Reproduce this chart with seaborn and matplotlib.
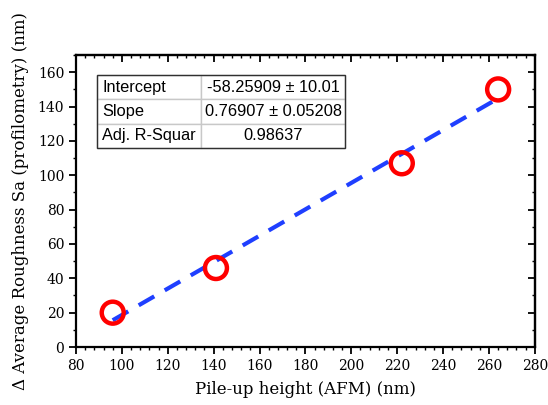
import matplotlib
matplotlib.use("Agg")
import matplotlib.pyplot as plt
import seaborn as sns
import numpy as np
import pandas as pd
from matplotlib.ticker import MultipleLocator
from matplotlib.patches import Rectangle

# Data
pileup_height = [96, 141, 222, 264]
delta_sa = [20, 46, 107, 150]
intercept = -58.25909
slope = 0.76907
table_rows = [["Intercept", "-58.25909 ± 10.01"],
              ["Slope", "0.76907 ± 0.05208"],
              ["Adj. R-Squar", "0.98637"]]

sns.set_theme(style="white")
plt.rcParams['font.family'] = ['DejaVu Serif']
plt.rcParams['text.color'] = 'black'
plt.rcParams['axes.labelcolor'] = 'black'
plt.rcParams['xtick.color'] = 'black'
plt.rcParams['ytick.color'] = 'black'

fig = plt.figure(figsize=(5.48, 4.05), dpi=100)
ax = fig.add_axes([0.1387, 0.1432, 0.976 - 0.1387, 0.864 - 0.1432])

df = pd.DataFrame({"x": pileup_height, "y": delta_sa})
fit_x = [min(pileup_height), max(pileup_height)]
fit_df = pd.DataFrame({"x": fit_x, "y": [intercept + slope * v for v in fit_x]})

sns.lineplot(data=fit_df, x="x", y="y", ax=ax, color="#1f3fff", linewidth=3.0,
             zorder=2)
ax.lines[-1].set_dashes((4.3, 2.9))
sns.scatterplot(data=df, x="x", y="y", ax=ax, s=250, marker="o",
                facecolors="none", edgecolor="#ff0000", linewidth=3.2, zorder=3)

ax.set_xlim(80, 280)
ax.set_ylim(0, 170)
ax.xaxis.set_major_locator(MultipleLocator(20))
ax.xaxis.set_minor_locator(MultipleLocator(4))
ax.yaxis.set_major_locator(MultipleLocator(20))
ax.yaxis.set_minor_locator(MultipleLocator(10))

for sp in ax.spines.values():
    sp.set_color("black")
    sp.set_linewidth(1.6)

ax.tick_params(axis="both", which="major", direction="out", length=5, width=1.3,
               colors="black", labelsize=10, bottom=True, left=True)
ax.tick_params(axis="both", which="minor", direction="out", length=2.5, width=1.0,
               colors="black", bottom=True, left=True)
# top / right inward ticks via secondary axes
secx = ax.secondary_xaxis("top")
secx.xaxis.set_major_locator(MultipleLocator(20))
secx.xaxis.set_minor_locator(MultipleLocator(4))
secx.tick_params(which="major", direction="in", length=5, width=1.3, labeltop=False)
secx.tick_params(which="minor", direction="in", length=2.5, width=1.0)
secx.spines["top"].set_linewidth(1.6)
secy = ax.secondary_yaxis("right")
secy.yaxis.set_major_locator(MultipleLocator(20))
secy.yaxis.set_minor_locator(MultipleLocator(10))
secy.tick_params(which="major", direction="in", length=5, width=1.3, labelright=False)
secy.tick_params(which="minor", direction="in", length=2.5, width=1.0)
secy.spines["right"].set_linewidth(1.6)

ax.set_xlabel("Pile-up height (AFM) (nm)", fontsize=12, labelpad=6, color="black")
ax.set_ylabel("Δ Average Roughness Sa (profilometry) (nm)", fontsize=12, labelpad=6,
              color="black")

tbl = ax.table(cellText=table_rows, cellLoc="center",
               bbox=[0.046, 0.682, 0.54, 0.25], colWidths=[0.42, 0.58])
tbl.auto_set_font_size(False)
tbl.set_fontsize(11.8)
for (r, c), cell in tbl.get_celld().items():
    cell.set_edgecolor("#c8c8c8")
    cell.set_linewidth(1.0)
    cell.set_facecolor("white")
    cell.get_text().set_fontfamily("Liberation Sans")
    cell.get_text().set_fontsize(11.8)
    cell.get_text().set_color("black")
    if c == 0:
        cell.get_text().set_horizontalalignment("left")
        cell.PAD = 0.05
tbl.set_zorder(4)
ax.add_patch(Rectangle((0.046, 0.682), 0.54, 0.25, transform=ax.transAxes,
                       fill=False, edgecolor="#303030", linewidth=1.0, zorder=5))

fig.savefig("out.png", dpi=100)
